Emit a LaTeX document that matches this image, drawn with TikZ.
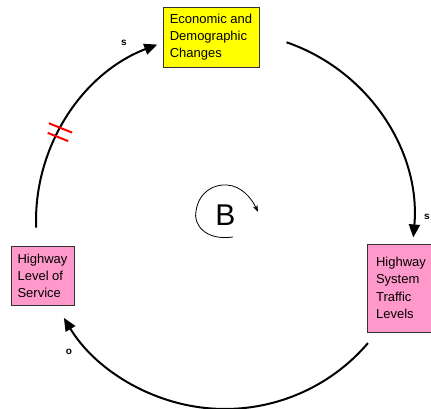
\documentclass[tikz,border=0pt]{standalone}
\usepackage{fontspec}
\setmainfont{Liberation Sans}
\usetikzlibrary{arrows.meta,calc}
\definecolor{pinkbox}{HTML}{FF99CC}
\definecolor{yellowbox}{HTML}{FFFF00}
\begin{document}
\begin{tikzpicture}[x=1pt,y=1pt,
  box/.style={draw=black!80, line width=0.6pt, rectangle, align=left, inner sep=0pt},
  link/.style={line width=2pt, -{Triangle[length=13pt,width=11pt]}},
  polarity/.style={font=\bfseries\fontsize{10}{11}\selectfont, inner sep=0pt},
  hash/.style={red, line width=2pt}]
\useasboundingbox (0,0) rectangle (431,409);
% boxes
\node[box, fill=yellowbox, minimum width=96, minimum height=60,
      font=\fontsize{13}{17}\selectfont] (econ) at (211,372) {Economic and\\Demographic\\Changes};
\node[box, fill=pinkbox, minimum width=63, minimum height=59,
      font=\fontsize{13}{17}\selectfont] (hlos) at (42.5,133.5) {Highway\\Level of\\Service};
\node[box, fill=pinkbox, minimum width=68, minimum height=88,
      font=\fontsize{13}{17.5}\selectfont] (hstl) at (401,121) {Highway\\System\\Traffic\\Levels};
% loop circle
\coordinate (c) at (225,188);
\coordinate (a1s) at ($(c)+(182:189)$);
\coordinate (a2s) at ($(c)+(71:189)$);
\coordinate (a3s) at ($(c)+(-40.5:188)$);
\draw[link] (a1s) arc[start angle=182, end angle=111, radius=189];
\draw[link] (a2s) arc[start angle=71, end angle=-5, radius=189];
\draw[link] (a3s) arc[start angle=-40.5, end angle=-149, radius=188];
% delay marks
\coordinate (h1) at ($(c)+(150.5:189)$);
\coordinate (h2) at ($(c)+(153.3:187)$);
\draw[hash] ($(h1)+(158:12.5)$) -- ($(h1)+(-22:12.5)$);
\draw[hash] ($(h2)+(158:11)$) -- ($(h2)+(-22:11)$);
% polarities
\node[polarity] (p1) at (124,366) {s};
\node[polarity] (p2) at (427,192) {s};
\node[polarity] (p3) at (69,57) {o};
% balancing loop symbol
\node[font=\fontsize{30}{30}\selectfont, inner sep=0pt] (B) at (225.5,194) {B};
\coordinate (bs) at (233,172);
\coordinate (be) at (258,197);
\draw[line width=0.8pt, -{Stealth[length=7pt,width=5pt]}]
  (bs) .. controls (205,168) and (193,185) .. (196,198)
       .. controls (199,218) and (215,225) .. (227,224)
       .. controls (242,223) and (252,210) .. (be);
\end{tikzpicture}
\end{document}
